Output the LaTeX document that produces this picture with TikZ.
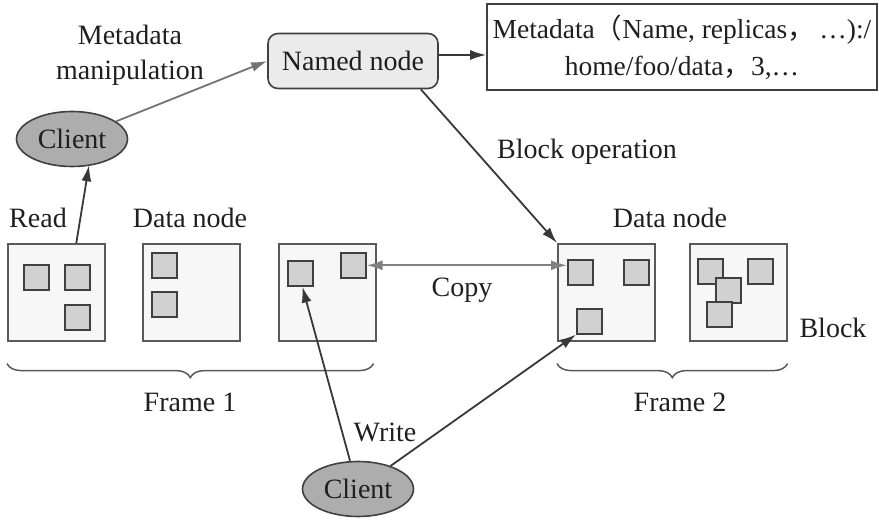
\documentclass[tikz,border=0pt]{standalone}
\usepackage{fontspec}
\setmainfont{Liberation Serif}
\newfontfamily\cjk{Noto Sans CJK SC}
\usetikzlibrary{arrows.meta,decorations.pathreplacing,shapes.geometric}
\begin{document}
\begin{tikzpicture}[x=1pt,y=-1pt,
  font=\fontsize{28}{32}\selectfont,
  every node/.style={text=black!88},
  ln/.style={draw=black!78, line width=1.8pt},
  arr/.style={ln, -{Latex[length=16pt,width=10pt]}},
  garr/.style={draw=black!55, line width=1.8pt, -{Latex[length=16pt,width=10pt]}},
  dnode/.style={draw=black!65, line width=1.6pt, fill=black!3, minimum width=97pt, minimum height=97pt, inner sep=0pt, anchor=north west},
  blk/.style={draw=black!75, line width=1.6pt, fill=black!18, minimum size=25pt, inner sep=0pt, anchor=north west},
  client/.style={ellipse, draw=black!75, line width=1.6pt, fill=black!32, minimum width=111pt, minimum height=55pt, inner sep=0pt},
  lbl/.style={inner sep=0pt},
  brc/.style={draw=black!65, line width=1.5pt, decorate, decoration={brace, mirror, amplitude=14pt}}
]
\useasboundingbox (0,0) rectangle (879,521);

% top
\node[draw=black!75, line width=1.6pt, fill=black!8, rounded corners=10pt, minimum width=170pt, minimum height=55pt] (named) at (353,61) {Named node};
\node[draw=black!75, line width=1.6pt, fill=white, minimum width=390pt, minimum height=86pt, align=center, font=\fontsize{27.5}{37}\selectfont] (meta) at (682,47)
  {Metadata{\cjk（}Name, replicas{\cjk，}\,…):/\\home/foo/data{\cjk，}3,…};
\node[client] (c1) at (72,139) {Client};
\node[lbl, align=center, font=\fontsize{28}{35}\selectfont] (mm) at (130,55) {Metadata\\manipulation};

% frame 1
\node[dnode] (b1) at (7,243) {};
\node[dnode] (b2) at (142,243) {};
\node[dnode] (b3) at (278,243) {};
\node[blk] (s11) at (23,264) {};
\node[blk] (s12) at (64,264) {};
\node[blk] (s13) at (64,304) {};
\node[blk] (s21) at (151,252) {};
\node[blk] (s22) at (151,291) {};
\node[blk] (s31) at (287,260) {};
\node[blk] (s32) at (340,252) {};

% frame 2
\node[dnode] (b4) at (557,243) {};
\node[dnode] (b5) at (689,243) {};
\node[blk] (s41) at (567,259) {};
\node[blk] (s42) at (623,259) {};
\node[blk] (s43) at (576,308) {};
\node[blk] (s51) at (697,258) {};
\node[blk] (s52) at (747,258) {};
\node[blk] (s53) at (715,277) {};
\node[blk] (s54) at (706,301) {};

% bottom client
\node[client] (c2) at (358,489) {Client};

% labels
\node[lbl] (read) at (38,218) {Read};
\node[lbl] (dn1) at (190,218) {Data node};
\node[lbl] (dn2) at (670,218) {Data node};
\node[lbl] (bop) at (587,152) {Block operation};
\node[lbl] (copy) at (462,290) {Copy};
\node[lbl] (block) at (833,328) {Block};
\node[lbl] (f1) at (190,402) {Frame 1};
\node[lbl] (f2) at (680,402) {Frame 2};
\node[lbl] (write) at (385,432) {Write};

% braces
\draw[brc] ([yshift=-22pt]b1.south west) -- ([yshift=-22pt,xshift=-3pt]b3.south east);
\draw[brc] ([yshift=-22pt]b4.south west) -- ([yshift=-22pt]b5.south east);

% connectors
\draw[garr] (c1) -- (named.west);
\draw[arr] ([xshift=20pt]b1.north) -- ([xshift=17pt,yshift=2pt]c1.south);
\draw[arr] ([yshift=6pt]named.east) -- ([yshift=6pt]named.east -| meta.west);
\draw[arr] ([xshift=-18pt]named.south east) -- (b4.north west);
\draw[draw=black!50, line width=1.8pt, {Latex[length=16pt,width=10pt]}-{Latex[length=16pt,width=10pt]}] (s32.east) -- (s32.east -| s41.west);
\draw[arr] ([xshift=-8pt]c2.north) -- ([xshift=2pt]s31.south);
\draw[arr] (c2) -- (s43.south west);
\end{tikzpicture}
\end{document}
